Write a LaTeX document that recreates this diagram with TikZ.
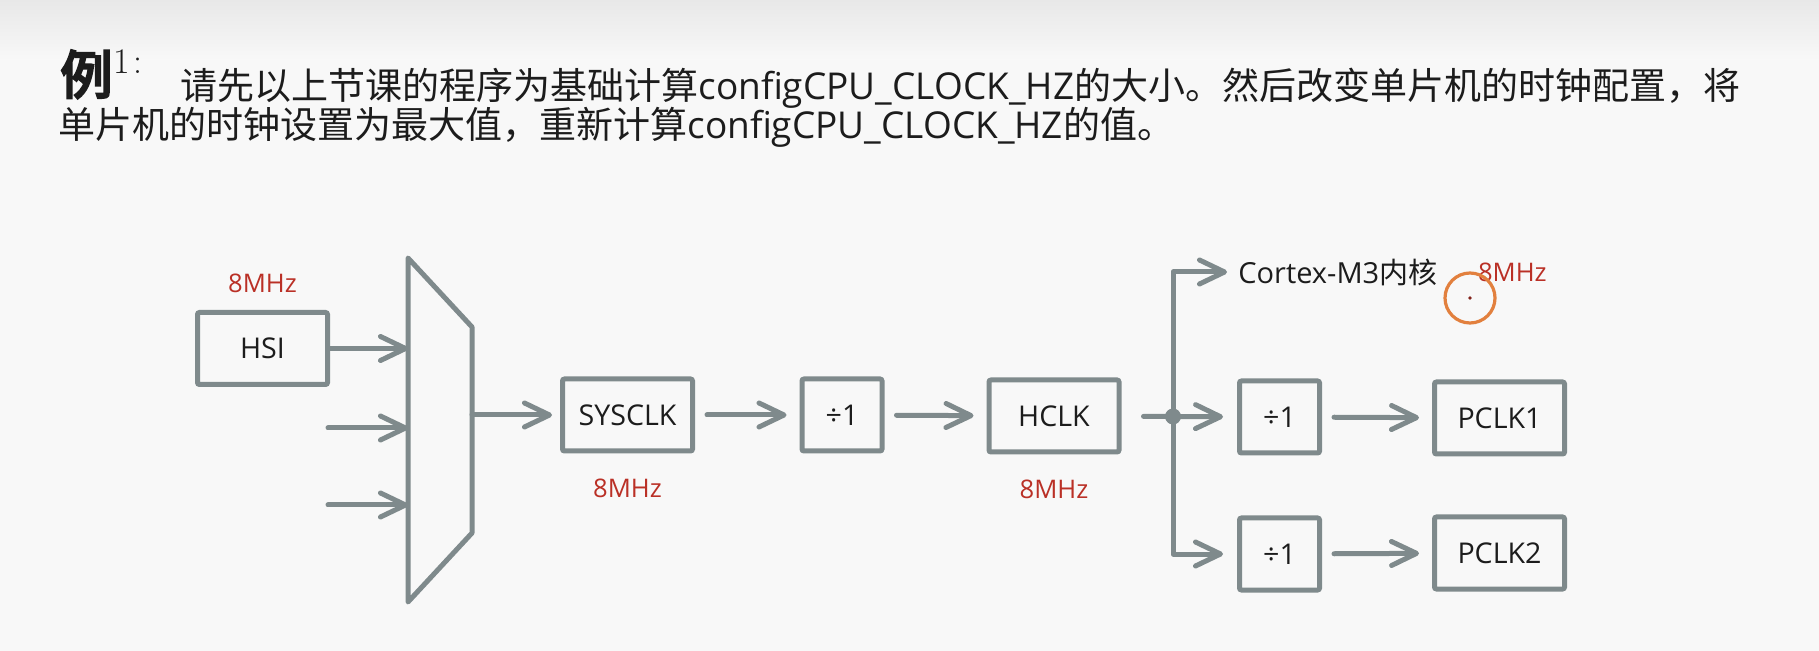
\documentclass[tikz,border=0pt]{standalone}
\usepackage{fontspec}
\newfontfamily\uifont{Open Sans}
\newfontfamily\cjk{Noto Sans CJK SC}
\newfontfamily\cjkheavy[FakeBold=5]{Noto Sans CJK SC}
\usetikzlibrary{arrows.meta,positioning}

\definecolor{wire}{RGB}{127,138,140}
\definecolor{freqred}{RGB}{186,48,38}
\definecolor{pagebg}{RGB}{248,248,248}
\definecolor{pagetop}{RGB}{232,232,232}
\definecolor{cursor}{RGB}{226,128,62}
\definecolor{ink}{RGB}{28,28,28}

\newcommand\cfgname{{\uifont configCPU\_CLOCK\_HZ}}

\tikzset{
  clkbox/.style={draw=wire, line width=2.5pt, rounded corners=1pt,
    minimum width=65pt, minimum height=36pt, text=ink,
    font=\uifont\fontsize{14.3}{17}\selectfont},
  divbox/.style={clkbox, minimum width=40pt},
  flow/.style={draw=wire, line width=2.5pt, line cap=round, line join=round,
    -{Straight Barb[length=12.5pt,width=12pt,round]}},
  gap/.style={flow, shorten <=6pt, shorten >=6.5pt},
  freq/.style={text=freqred, inner sep=0pt, font=\uifont\fontsize{12.8}{15}\selectfont},
  title/.style={anchor=base west, inner sep=0pt, text=ink,
    font=\cjk\fontsize{18.5}{20}\selectfont},
}

\begin{document}
\begin{tikzpicture}[x=0.5pt, y=-0.5pt]
\useasboundingbox (0,0) rectangle (1819,651);
\fill[pagebg] (0,0) rectangle (1819,651);
\shade[top color=pagetop, bottom color=pagebg] (0,0) rectangle (1819,60);

% exercise text
\node[anchor=base west, inner sep=0pt, text=ink, font=\cjkheavy\fontsize{26}{26}\selectfont] (ex) at (60,94) {例};
\node[anchor=base west, inner sep=0pt, text=ink, font=\fontsize{18}{18}\selectfont] (exnum) at (113,74) {1\hspace{2pt}:};
\node[title] (line1) at (180,100) {请先以上节课的程序为基础计算\cfgname 的大小。然后改变单片机的时钟配置，将};
\node[title] (line2) at (58,139) {单片机的时钟设置为最大值，重新计算\cfgname 的值。};

% clock source and switch
\node[clkbox] (hsi) at (262.5,348.5) {HSI};
\node[freq, above=8.5pt of hsi] (hsifreq) {8MHz};
\coordinate (muxtl) at (408,258);
\coordinate (muxtr) at (472,327);
\coordinate (muxbr) at (472,533);
\coordinate (muxbl) at (408,602);
\draw[wire, line width=2.5pt, line join=round] (muxtl) -- (muxtr) -- (muxbr) -- (muxbl) -- cycle;
\coordinate (in2) at (328,428);
\coordinate (in3) at (328,505);
\draw[flow] (hsi) -- (hsi -| muxtl);
\draw[flow] (in2) -- (in2 -| muxtl);
\draw[flow] (in3) -- (in3 -| muxtl);

% system clock chain
\node[clkbox] (sysclk) at (627.5,415) {SYSCLK};
\node[freq, below=12.5pt of sysclk] (sysfreq) {8MHz};
\node[divbox] (ahbdiv) at (842,415) {÷1};
\node[clkbox] (hclk) at (1054,416) {HCLK};
\node[freq, below=12.5pt of hclk] (hclkfreq) {8MHz};
\draw[flow, shorten >=4pt] (muxbr |- sysclk) -- (sysclk);
\draw[gap] (sysclk) -- (ahbdiv);
\draw[gap] (ahbdiv) -- (hclk);

% bus branches
\node[divbox] (apb1div) at (1279.5,417) {÷1};
\node[clkbox] (pclk1) at (1499.5,418) {PCLK1};
\node[divbox] (apb2div) at (1279.5,554) {÷1};
\node[clkbox] (pclk2) at (1499.5,553) {PCLK2};
\node[anchor=west, inner sep=0pt, text=ink, font=\uifont\fontsize{14.5}{17}\selectfont] (core) at (1238,272) {Cortex-M3{\cjk 内核}};
\node[freq, right=20pt of core] (corefreq) {8MHz};
\coordinate (split) at (1173,416.5);
\draw[flow, shorten <=11pt, shorten >=7pt] (hclk) -- (apb1div);
\draw[flow, shorten >=5.5pt] (split) |- (core.west);
\draw[flow, shorten >=7pt] (split) |- (apb2div);
\fill[wire] (split) circle[radius=4pt];
\draw[gap] (apb1div) -- (pclk1);
\draw[gap] (apb2div) -- (pclk2);

% pointer mark
\node[circle, draw=cursor, line width=1.6pt, minimum size=25pt, inner sep=0pt] (pointer) at (1470,298) {};
\fill[freqred!70!black] (pointer.center) circle[radius=0.9pt];
\end{tikzpicture}
\end{document}
